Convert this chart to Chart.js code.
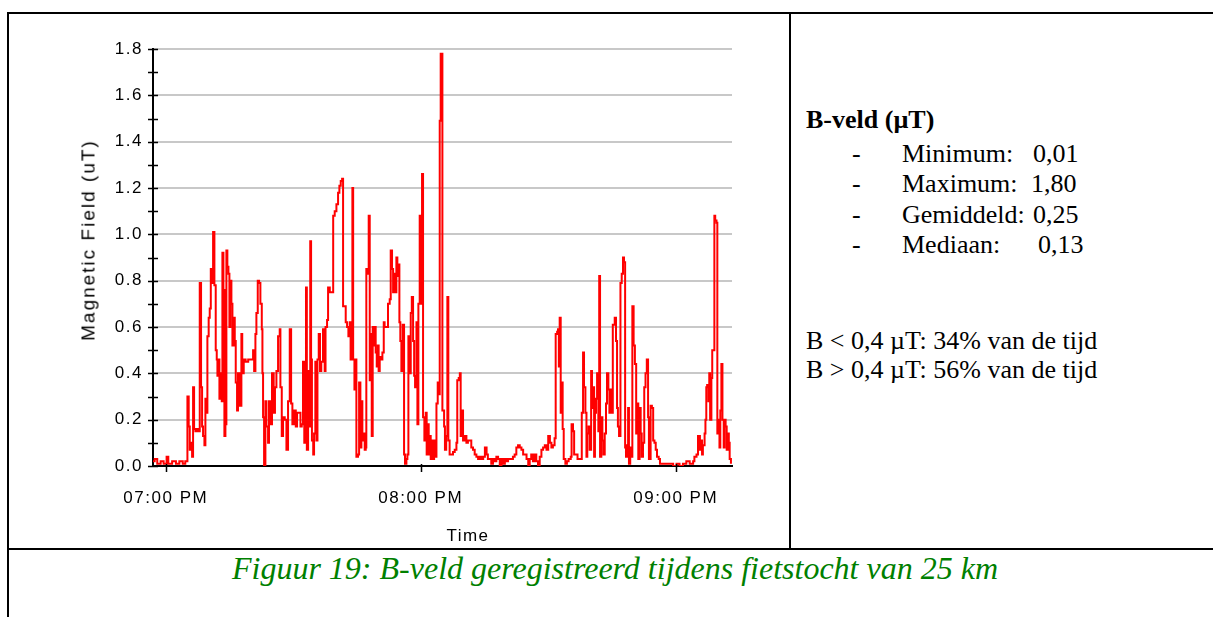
<!DOCTYPE html>
<html>
<head>
<meta charset="utf-8">
<script src="https://cdn.jsdelivr.net/npm/chart.js@4.4.1/dist/chart.umd.min.js"></script>
<style>
  html, body { margin: 0; padding: 0; background: #fff; }
  body { width: 1213px; height: 617px; position: relative; overflow: hidden; }
  .rule { position: absolute; background: #000; }
  #chartBox { position: absolute; left: 0; top: 0; width: 789px; height: 548px; }
  .axisTitle { position: absolute; font-family: "Liberation Sans", Arial, sans-serif; color: #000; white-space: nowrap; line-height: 1; }
  .serif { position: absolute; font-family: "Liberation Serif", "Times New Roman", serif; font-size: 26px; line-height: 26px; color: #000; white-space: nowrap; }
  #caption { position: absolute; left: 8px; width: 1214px; top: 550px; text-align: center; font-family: "Liberation Serif", "Times New Roman", serif; font-style: italic; font-size: 32px; color: #008000; white-space: nowrap; }
</style>
</head>
<body>

<!-- table borders -->
<div class="rule" style="left:7px; top:12px; width:1206px; height:2px;"></div>
<div class="rule" style="left:7px; top:12px; width:2px; height:605px;"></div>
<div class="rule" style="left:789px; top:12px; width:2px; height:537px;"></div>
<div class="rule" style="left:7px; top:548px; width:1206px; height:2px;"></div>

<div id="chartBox"><canvas id="chart" width="789" height="548"></canvas></div>

<div class="axisTitle" style="left:88px; top:240px; font-size:19px; letter-spacing:2px; transform: translate(-50%, -50%) rotate(-90deg);">Magnetic Field (uT)</div>
<div class="axisTitle" style="left:468px; top:535px; font-size:17px; letter-spacing:1.5px; transform: translate(-50%, -50%);">Time</div>

<!-- stats panel -->
<div class="serif" style="left:806px; top:107px; font-weight:bold;">B-veld (µT)</div>
<div class="serif" style="left:852px; top:141px;">-</div>
<div class="serif" style="left:902px; top:141px;">Minimum:</div>
<div class="serif" style="left:1033px; top:141px;">0,01</div>
<div class="serif" style="left:852px; top:171px;">-</div>
<div class="serif" style="left:902px; top:171px;">Maximum:</div>
<div class="serif" style="left:1031px; top:171px;">1,80</div>
<div class="serif" style="left:852px; top:202px;">-</div>
<div class="serif" style="left:902px; top:202px;">Gemiddeld:</div>
<div class="serif" style="left:1033px; top:202px;">0,25</div>
<div class="serif" style="left:852px; top:232px;">-</div>
<div class="serif" style="left:902px; top:232px;">Mediaan:</div>
<div class="serif" style="left:1038px; top:232px;">0,13</div>
<div class="serif" style="left:806px; top:328px;">B &lt; 0,4 µT: 34% van de tijd</div>
<div class="serif" style="left:806px; top:357px;">B &gt; 0,4 µT: 56% van de tijd</div>

<div id="caption">Figuur 19: B-veld geregistreerd tijdens fietstocht van 25 km</div>

<script>
// x axis: minutes after 07:00 PM
const xTickMinutes = [0, 60, 120];
const xTickLabels = ['07:00 PM', '08:00 PM', '09:00 PM'];

// logged samples (minutes after 07:00 PM) and field strength in uT
const minutes = [
  -3.0, -2.6, -2.0, -1.2, -0.5, 0.2, 0.6, 1.5, 2.4, 3.2, 4.0, 4.6,
  5.1, 5.4, 5.65, 5.9, 6.2, 6.43, 6.67, 6.98, 7.37, 7.76, 8.0, 8.31,
  8.55, 8.78, 9.1, 9.33, 9.57, 9.8, 10.1, 10.35, 10.6, 10.9, 11.14, 11.45,
  11.76, 12.0, 12.16, 12.4, 12.63, 12.86, 13.18, 13.33, 13.57, 13.8, 14.04, 14.27,
  14.5, 14.75, 14.98, 15.2, 15.45, 15.69, 16.0, 16.24, 16.47, 16.78, 17.0, 17.4,
  17.8, 18.0, 18.35, 18.8, 19.4, 20.2, 20.55, 20.8, 21.1, 21.33, 21.65, 21.96,
  22.27, 22.6, 22.75, 22.9, 23.14, 23.45, 23.7, 24.08, 24.3, 24.63, 25.0, 25.4,
  25.7, 26.04, 26.43, 26.82, 26.98, 27.3, 27.6, 28.0, 28.4, 28.78, 29.18, 29.5,
  29.8, 30.2, 30.6, 30.9, 31.4, 31.7, 32.0, 32.3, 32.6, 33.0, 33.2, 33.5,
  33.73, 34.0, 34.2, 34.4, 34.7, 34.9, 35.2, 35.45, 35.7, 36.0, 36.3, 36.6,
  37.0, 37.4, 37.6, 37.96, 38.2, 38.6, 38.98, 39.4, 39.76, 40.16, 40.55, 40.86,
  41.18, 41.5, 41.73, 42.1, 42.35, 42.67, 42.98, 43.3, 43.5, 43.76, 43.92, 44.1,
  44.4, 44.63, 44.86, 45.25, 45.5, 45.8, 46.04, 46.27, 46.6, 46.82, 47.06, 47.2,
  47.45, 47.76, 48.0, 48.24, 48.47, 48.7, 48.94, 49.18, 49.4, 49.65, 49.88, 50.1,
  50.35, 50.67, 50.98, 51.3, 51.5, 52.3, 52.7, 52.94, 53.25, 53.5, 53.73, 54.04,
  54.27, 54.5, 54.75, 54.98, 55.2, 55.45, 55.76, 56.08, 56.3, 56.63, 56.86, 57.1,
  57.4, 57.65, 57.9, 58.2, 58.45, 58.67, 59.0, 59.22, 59.45, 59.76, 60.0, 60.31,
  60.55, 60.86, 61.18, 61.4, 61.65, 61.88, 62.1, 62.35, 62.6, 62.9, 63.15, 63.45,
  63.7, 64.0, 64.24, 64.47, 64.7, 65.1, 65.5, 65.7, 66.0, 66.27, 66.5, 66.8,
  67.6, 68.0, 68.4, 68.6, 68.94, 69.2, 69.4, 69.73, 69.96, 70.4, 70.75, 71.1,
  71.9, 72.3, 72.7, 73.1, 73.5, 73.9, 74.3, 74.7, 75.1, 75.5, 75.8, 76.6,
  77.0, 77.4, 77.8, 78.2, 78.6, 79.0, 79.4, 79.8, 80.2, 80.55, 81.7, 82.1,
  82.5, 82.9, 83.3, 83.7, 84.1, 84.9, 85.3, 85.65, 86.0, 86.4, 86.8, 87.2,
  87.6, 88.0, 88.4, 88.8, 89.2, 89.6, 90.0, 90.4, 90.75, 91.1, 91.5, 91.76,
  92.1, 92.3, 92.5, 92.7, 92.94, 93.2, 93.4, 93.65, 94.04, 94.4, 94.8, 95.3,
  95.5, 95.84, 96.1, 96.9, 97.9, 98.2, 98.43, 98.75, 99.0, 99.2, 99.5, 99.76,
  100.1, 100.3, 100.55, 100.8, 101.0, 101.25, 101.5, 101.8, 102.0, 102.2, 102.5, 102.75,
  103.0, 103.3, 103.6, 103.84, 104.16, 104.4, 104.7, 104.94, 105.2, 105.4, 105.65, 105.96,
  106.2, 106.4, 106.67, 107.0, 107.3, 107.6, 107.84, 108.1, 108.3, 108.55, 108.8, 109.0,
  109.3, 109.6, 109.8, 110.1, 110.4, 110.7, 111.0, 111.2, 111.5, 111.76, 112.0, 112.3,
  112.6, 112.9, 113.2, 113.5, 113.7, 114.1, 114.4, 114.7, 115.0, 115.3, 115.6, 116.0,
  116.3, 117.8, 118.6, 119.4, 120.2, 120.9, 121.7, 122.5, 123.3, 124.1, 124.4, 124.9,
  125.25, 125.7, 126.0, 126.2, 126.4, 126.8, 127.0, 127.2, 127.4, 127.7, 127.9, 128.1,
  128.4, 128.6, 129.1, 129.3, 129.6, 129.8, 130.0, 130.3, 130.5, 130.75, 131.0, 131.3,
  131.5, 131.75, 132.0, 132.3, 132.5, 132.7, 133.0
];
const fieldUT = [
  0.02, 0.03, 0.01, 0.02, 0.01, 0.04, 0.01, 0.02, 0.01, 0.02, 0.01, 0.02,
  0.30, 0.17, 0.07, 0.10, 0.04, 0.34, 0.16, 0.15, 0.16, 0.15, 0.79, 0.34,
  0.17, 0.13, 0.09, 0.29, 0.23, 0.56, 0.64, 0.68, 0.85, 0.79, 1.01, 0.78,
  0.50, 0.46, 0.39, 0.46, 0.29, 0.40, 0.28, 0.92, 0.76, 0.13, 0.18, 0.93,
  0.86, 0.83, 0.60, 0.80, 0.70, 0.52, 0.64, 0.54, 0.36, 0.24, 0.40, 0.26,
  0.57, 0.40, 0.46, 0.45, 0.46, 0.46, 0.50, 0.41, 0.57, 0.66, 0.80, 0.79,
  0.70, 0.59, 0.40, 0.21, 0.00, 0.28, 0.17, 0.10, 0.28, 0.18, 0.40, 0.23,
  0.34, 0.41, 0.56, 0.59, 0.34, 0.13, 0.21, 0.20, 0.07, 0.28, 0.59, 0.27,
  0.18, 0.24, 0.17, 0.23, 0.23, 0.17, 0.18, 0.45, 0.10, 0.77, 0.07, 0.41,
  0.17, 0.97, 0.46, 0.11, 0.05, 0.14, 0.45, 0.11, 0.46, 0.57, 0.41, 0.45,
  0.59, 0.41, 0.60, 0.63, 0.77, 0.75, 0.75, 1.08, 1.10, 1.13, 1.18, 1.21,
  1.23, 1.24, 0.69, 0.69, 0.62, 0.60, 0.56, 0.62, 0.46, 0.59, 1.20, 0.46,
  0.33, 0.46, 0.04, 0.05, 0.36, 0.08, 0.28, 0.11, 0.14, 0.07, 0.08, 0.85,
  0.83, 1.08, 0.37, 0.57, 0.13, 0.60, 0.52, 0.60, 0.49, 0.43, 0.52, 0.41,
  0.47, 0.46, 0.49, 0.62, 0.60, 0.70, 0.72, 0.93, 0.85, 0.75, 0.83, 0.75,
  0.90, 0.82, 0.87, 0.62, 0.54, 0.41, 0.61, 0.05, 0.01, 0.03, 0.05, 0.56,
  0.40, 0.66, 0.73, 0.54, 0.39, 0.34, 0.62, 0.18, 0.70, 1.08, 0.70, 1.26,
  0.21, 0.11, 0.23, 0.05, 0.18, 0.05, 0.13, 0.03, 0.11, 0.03, 0.11, 0.04,
  0.27, 0.36, 0.31, 1.49, 1.78, 0.24, 0.17, 0.07, 0.13, 0.73, 0.11, 0.05,
  0.06, 0.07, 0.10, 0.37, 0.38, 0.40, 0.13, 0.24, 0.11, 0.13, 0.10, 0.11,
  0.08, 0.07, 0.05, 0.04, 0.03, 0.04, 0.03, 0.04, 0.08, 0.05, 0.03, 0.01,
  0.03, 0.02, 0.04, 0.03, 0.00, 0.03, 0.01, 0.03, 0.02, 0.03, 0.04, 0.05,
  0.08, 0.09, 0.08, 0.07, 0.05, 0.03, 0.00, 0.03, 0.05, 0.02, 0.05, 0.02,
  0.00, 0.04, 0.07, 0.08, 0.09, 0.07, 0.13, 0.10, 0.08, 0.09, 0.12, 0.57,
  0.58, 0.59, 0.43, 0.64, 0.23, 0.36, 0.16, 0.03, 0.01, 0.02, 0.03, 0.04,
  0.18, 0.15, 0.05, 0.03, 0.23, 0.49, 0.34, 0.23, 0.04, 0.14, 0.17, 0.07,
  0.41, 0.25, 0.34, 0.04, 0.23, 0.29, 0.40, 0.15, 0.82, 0.04, 0.21, 0.11,
  0.05, 0.14, 0.27, 0.40, 0.33, 0.23, 0.33, 0.23, 0.61, 0.61, 0.64, 0.54,
  0.25, 0.17, 0.13, 0.79, 0.83, 0.90, 0.88, 0.08, 0.04, 0.09, 0.25, 0.01,
  0.08, 0.04, 0.69, 0.52, 0.44, 0.14, 0.27, 0.03, 0.25, 0.14, 0.04, 0.10,
  0.34, 0.40, 0.46, 0.21, 0.03, 0.26, 0.25, 0.11, 0.10, 0.07, 0.04, 0.03,
  0.01, 0.01, 0.01, 0.00, 0.01, 0.00, 0.01, 0.02, 0.01, 0.02, 0.04, 0.05,
  0.13, 0.07, 0.11, 0.05, 0.09, 0.14, 0.20, 0.34, 0.35, 0.28, 0.40, 0.20,
  0.38, 0.50, 1.08, 1.06, 1.05, 0.14, 0.20, 0.08, 0.24, 0.44, 0.20, 0.08,
  0.20, 0.17, 0.07, 0.14, 0.10, 0.03, 0.01
];

const tickFont = { family: 'Liberation Sans', size: 17 };

// wide letter spacing for the axis labels, and short black tick marks crossing the axes
const axisStyle = {
  id: 'axisStyle',
  beforeUpdate(chart) { chart.ctx.letterSpacing = '1.5px'; },
  beforeDraw(chart) { chart.ctx.letterSpacing = '1.5px'; },
  afterDraw(chart) {
    const { ctx, chartArea, scales: { x, y } } = chart;
    ctx.save();
    ctx.strokeStyle = '#000';
    ctx.lineWidth = 1.5;
    ctx.beginPath();
    y.ticks.forEach(t => {
      const py = Math.round(y.getPixelForValue(t.value)) + 0.5;
      ctx.moveTo(chartArea.left - 5, py);
      ctx.lineTo(chartArea.left + 5, py);
    });
    x.ticks.forEach(t => {
      const px = Math.round(x.getPixelForValue(t.value)) + 0.5;
      ctx.moveTo(px, chartArea.bottom - 2);
      ctx.lineTo(px, chartArea.bottom + 6);
    });
    ctx.stroke();
    ctx.restore();
  }
};

new Chart(document.querySelector('#chart').getContext('2d'), {
  type: 'line',
  data: {
    datasets: [{
      data: minutes.map((m, i) => ({ x: m, y: fieldUT[i] })),
      borderColor: '#ff0000',
      borderWidth: 2,
      pointRadius: 0,
      stepped: true,
      fill: false
    }]
  },
  options: {
    responsive: false,
    animation: false,
    layout: { padding: { left: 0, top: 49, right: 57, bottom: 0 } },
    plugins: { legend: { display: false }, tooltip: { enabled: false } },
    scales: {
      x: {
        type: 'linear',
        min: -3,
        max: 133.25,
        afterBuildTicks: s => { s.ticks = xTickMinutes.map(v => ({ value: v })); },
        afterFit: s => { s.height = 82; },
        grid: { display: false },
        border: { display: true, color: '#000', width: 2 },
        ticks: {
          autoSkip: false,
          maxRotation: 0,
          padding: 14,
          color: '#000',
          font: tickFont,
          callback: v => xTickLabels[xTickMinutes.indexOf(v)] || ''
        }
      },
      y: {
        min: 0,
        max: 1.8,
        afterFit: s => { s.width = 153; },
        grid: {
          drawTicks: false,
          lineWidth: 2,
          color: c => (c.tick && c.tick.value > 0 && Math.round(c.tick.value * 10) % 2 === 0) ? '#c8c8c8' : 'rgba(0,0,0,0)'
        },
        border: { color: '#000', width: 2 },
        ticks: {
          stepSize: 0.1,
          autoSkip: false,
          padding: 10,
          color: '#000',
          font: tickFont,
          callback: v => Math.round(v * 10) % 2 === 0 ? v.toFixed(1) : ''
        }
      }
    }
  },
  plugins: [axisStyle]
});
</script>
</body>
</html>
